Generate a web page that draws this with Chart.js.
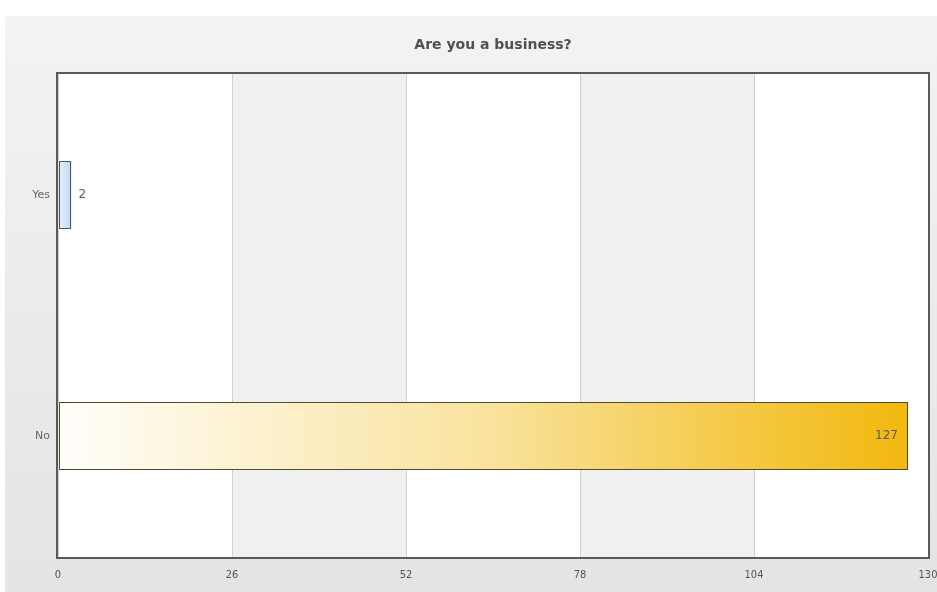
<!DOCTYPE html>
<html><head><meta charset="utf-8">
<script src="https://cdn.jsdelivr.net/npm/chart.js@4/dist/chart.umd.min.js"></script>
<style>html,body{margin:0;padding:0;background:#fff;}#wrap{width:937px;height:592px;}</style>
</head><body><div id="wrap"><canvas id="c" width="937" height="592"></canvas></div>
<script>
const categories = ["Yes", "No"];
const counts = [2, 127];
const tickValues = [0, 26, 52, 78, 104, 130];
const chartTitle = "Are you a business?";
const barEdgeColors = ['#4a5560', '#4f4a30'];

const panelPlugin = {
  id: 'panel',
  beforeDraw(chart) {
    const {ctx, chartArea: a, width, height} = chart;
    ctx.save();
    ctx.fillStyle = '#ffffff';
    ctx.fillRect(0, 0, width, height);
    const g = ctx.createLinearGradient(0, 16, 0, height);
    g.addColorStop(0, '#f3f3f3');
    g.addColorStop(1, '#e4e4e4');
    ctx.fillStyle = g;
    ctx.fillRect(5, 16, width - 5, height - 16);
    ctx.fillStyle = '#ffffff';
    ctx.fillRect(a.left, a.top, a.right - a.left, a.bottom - a.top);
    const xs = chart.scales.x;
    ctx.fillStyle = '#f0f0f0';
    for (let i = 1; i < tickValues.length - 1; i += 2) {
      const x0 = xs.getPixelForValue(tickValues[i]);
      const x1 = xs.getPixelForValue(tickValues[i + 1]);
      ctx.fillRect(x0, a.top, x1 - x0, a.bottom - a.top);
    }
    ctx.font = 'bold 14px "DejaVu Sans", Verdana, sans-serif';
    ctx.fillStyle = '#505050';
    ctx.textAlign = 'center';
    ctx.textBaseline = 'middle';
    ctx.fillText(chartTitle, (a.left + a.right) / 2, 45);
    ctx.restore();
  },
  afterDatasetsDraw(chart) {
    const {ctx} = chart;
    const meta = chart.getDatasetMeta(0);
    ctx.save();
    meta.data.forEach((el, i) => {
      const top = Math.round(el.y - el.height / 2) + 0.5;
      const bot = Math.round(el.y + el.height / 2) - 0.5;
      const l = Math.round(el.base) + 0.5;
      const r = Math.round(el.x) - 0.5;
      ctx.strokeStyle = barEdgeColors[i];
      ctx.lineWidth = 1;
      ctx.strokeRect(l, top, r - l, bot - top);
    });
    ctx.font = '12px "DejaVu Sans", Verdana, sans-serif';
    ctx.fillStyle = '#5a5a5a';
    ctx.textBaseline = 'middle';
    meta.data.forEach((el, i) => {
      const v = counts[i];
      const w = el.x - el.base;
      if (w > 60) {
        ctx.textAlign = 'right';
        ctx.fillText(String(v), el.x - 10, el.y);
      } else {
        ctx.textAlign = 'left';
        ctx.fillText(String(v), el.x + 7, el.y);
      }
    });
    ctx.restore();
  },
  afterDraw(chart) {
    const {ctx, chartArea: a} = chart;
    ctx.save();
    ctx.strokeStyle = '#5a5a5a';
    ctx.lineWidth = 2;
    ctx.strokeRect(a.left - 1, a.top - 1, a.right - a.left + 2, a.bottom - a.top + 2);
    ctx.restore();
  }
};

function barFill(context) {
  const chart = context.chart;
  const a = chart.chartArea;
  if (!a) return '#ddd';
  const i = context.dataIndex;
  const xs = chart.scales.x;
  const x0 = xs.getPixelForValue(0);
  const x1 = xs.getPixelForValue(counts[i]);
  const g = chart.ctx.createLinearGradient(x0, 0, Math.max(x1, x0 + 1), 0);
  if (i === 0) {
    g.addColorStop(0, '#e8f3fc');
    g.addColorStop(1, '#bcd9f4');
  } else {
    g.addColorStop(0, '#fffefa');
    g.addColorStop(0.5, '#f9e39e');
    g.addColorStop(1, '#f2b80d');
  }
  return g;
}

new Chart(document.getElementById('c'), {
  type: 'bar',
  data: {
    labels: categories,
    datasets: [{
      data: counts,
      backgroundColor: barFill,
      borderColor: barEdgeColors,
      borderWidth: 0,
      barPercentage: 0.28,
      categoryPercentage: 1.0
    }]
  },
  plugins: [panelPlugin],
  options: {
    indexAxis: 'y',
    responsive: false,
    animation: false,
    devicePixelRatio: 1,
    layout: {padding: {left: 0, right: 9, top: 74, bottom: 0}},
    plugins: {
      legend: {display: false},
      tooltip: {enabled: false},
      title: {display: false}
    },
    scales: {
      x: {
        min: 0, max: 130,
        afterBuildTicks(scale) { scale.ticks = tickValues.map(v => ({value: v})); },
        afterFit(scale) { scale.height = 35; scale.paddingLeft = 0; scale.paddingRight = 0; },
        grid: {color: '#d2d2d2', lineWidth: 1, drawTicks: false, drawOnChartArea: true},
        border: {display: false},
        ticks: {
          padding: 12,
          color: '#555',
          maxRotation: 0,
          font: {family: '"DejaVu Sans Condensed", "Liberation Sans Narrow", sans-serif', size: 11}
        }
      },
      y: {
        afterFit(scale) { scale.width = 58; scale.paddingTop = 0; scale.paddingBottom = 0; },
        grid: {display: false, drawTicks: false},
        border: {display: false},
        ticks: {
          padding: 8,
          color: '#666',
          font: {family: '"DejaVu Sans", Verdana, sans-serif', size: 11}
        }
      }
    }
  }
});
</script>
</body></html>
